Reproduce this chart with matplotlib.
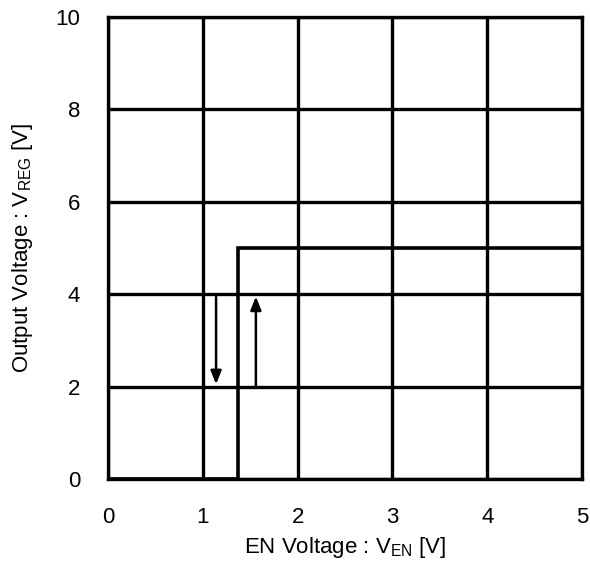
import matplotlib
matplotlib.use("Agg")
import matplotlib.pyplot as plt

plt.rcParams['font.family'] = ['Liberation Sans', 'DejaVu Sans']
plt.rcParams['mathtext.fontset'] = 'custom'
plt.rcParams['mathtext.rm'] = 'Liberation Sans'

# Data
step_x = [0, 1.37, 1.37, 5]
step_y = [0, 0, 5, 5]
arrow_down = (1.14, 3.95, 2.05)   # x, y_start, y_end
arrow_up = (1.56, 2.0, 3.95)
xticks = [0, 1, 2, 3, 4, 5]
yticks = [0, 2, 4, 6, 8, 10]

fig = plt.figure(figsize=(5.9, 5.62), dpi=100)
ax = fig.add_axes([108/590, 1-479/562, (582-108)/590, (479-17)/562])
ax.set_xlim(0, 5)
ax.set_ylim(0, 10)
ax.set_xticks(xticks)
ax.set_yticks(yticks)
ax.tick_params(length=0, labelsize=16, pad=20)
ax.grid(True, color='black', linewidth=2.4)
for s in ax.spines.values():
    s.set_linewidth(2.4)
ax.plot(step_x, step_y, color='black', linewidth=2.6, solid_joinstyle='miter')

for (x, y0, y1) in [arrow_down, arrow_up]:
    ax.annotate('', xy=(x, y1), xytext=(x, y0),
                arrowprops=dict(arrowstyle='-|>,head_length=0.8,head_width=0.32',
                                color='black', lw=1.8, shrinkA=0, shrinkB=0))

ax.set_xlabel(r'EN Voltage : V$\mathregular{_{EN}}$ [V]', fontsize=16, labelpad=5)
ax.set_ylabel(r'Output Voltage : V$\mathregular{_{REG}}$ [V]', fontsize=16, labelpad=15)
fig.savefig('out.png', dpi=100)
